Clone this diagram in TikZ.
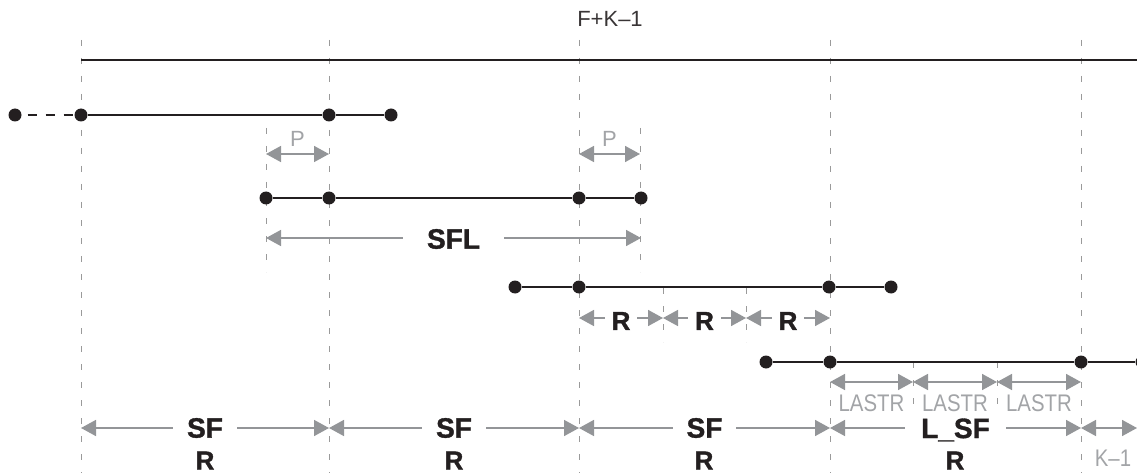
\documentclass[tikz,border=0pt]{standalone}
\usepackage{fontspec}
\setmainfont{Liberation Sans}
\newfontfamily\narrowsans[FakeStretch=0.85]{Liberation Sans}
\newfontfamily\heavysans[FakeBold=1.2]{Liberation Sans Bold}
\usetikzlibrary{arrows.meta}
\definecolor{ink}{HTML}{231F20}
\definecolor{ag}{HTML}{939598}
\definecolor{tg}{HTML}{A2A4A7}
\definecolor{dg}{HTML}{9A9A9A}
\begin{document}
\begin{tikzpicture}[x=1pt,y=-1pt,
  dot/.style={circle,fill=ink,inner sep=0pt,minimum size=13pt},
  seg/.style={draw=ink,line width=1.4pt},
  guide/.style={draw=dg,line width=0.9pt,dash pattern=on 6pt off 12pt},
  dim/.style={draw=ag,line width=1.6pt,{Triangle[length=15pt,width=16pt]}-{Triangle[length=15pt,width=16pt]}},
  big/.style={font=\heavysans\fontsize{28}{28}\selectfont,text=ink,fill=white,inner xsep=14pt,inner ysep=1pt},
  bigr/.style={font=\heavysans\fontsize{26}{26}\selectfont,text=ink,fill=white,inner xsep=7pt,inner ysep=1pt,yshift=-3pt},
  lab/.style={font=\heavysans\fontsize{26}{26}\selectfont,text=ink,inner sep=0pt,anchor=base},
  small/.style={font=\fontsize{22}{22}\selectfont,text=tg,inner sep=1pt},
  narrow/.style={font=\narrowsans\fontsize{24}{24}\selectfont,text=tg,inner sep=1pt}]
\useasboundingbox (0,0) rectangle (1137,473);

% main vertical guides
\foreach \n/\x in {1/81,2/329,3/579,4/830,5/1081}{
  \coordinate (g\n t) at (\x,40);
  \coordinate (g\n b) at (\x,473);
  \draw[guide] (g\n t) -- (g\n b);
}
% short guides
\coordinate (p1t) at (266,128); \coordinate (p1b) at (266,272);
\coordinate (p2t) at (640,128); \coordinate (p2b) at (640,272);
\coordinate (r1t) at (663,288); \coordinate (r1b) at (663,342);
\coordinate (r2t) at (746,288); \coordinate (r2b) at (746,342);
\coordinate (l1t) at (913,362); \coordinate (l1b) at (913,414);
\coordinate (l2t) at (997,362); \coordinate (l2b) at (997,414);
\foreach \c in {p1,p2,r1,r2,l1,l2}{\draw[guide] (\c t) -- (\c b);}

% top line
\node[font=\fontsize{22}{22}\selectfont,text=ink!90] (fk) at (610,19) {F+K–1};
\coordinate (t0) at (81,60);
\coordinate (t1) at (1137,60);
\draw[seg] (t0) -- (t1);

% row 1
\node[dot] (a0) at (15,115) {};
\node[dot] (a1) at (81,115) {};
\node[dot] (a2) at (329,115) {};
\node[dot] (a3) at (391,115) {};
\draw[draw=ink,line width=1.4pt,dash pattern=on 9pt off 9pt,dash phase=-6pt] (a0) -- (a1);
\draw[seg] (a1) -- (a2) -- (a3);

% P arrows
\coordinate (pa0) at (266,154); \coordinate (pa1) at (329,154);
\coordinate (pb0) at (579,154); \coordinate (pb1) at (640,154);
\draw[dim] (pa0) -- (pa1);
\draw[dim] (pb0) -- (pb1);
\node[small] (pl1) at (297.5,139) {P};
\node[small] (pl2) at (609.5,139) {P};

% row 2
\node[dot] (b0) at (266,198) {};
\node[dot] (b1) at (329,198) {};
\node[dot] (b2) at (579,198) {};
\node[dot] (b3) at (641,198) {};
\draw[seg] (b0) -- (b1) -- (b2) -- (b3);

% SFL
\coordinate (s0) at (266,238); \coordinate (s1) at (641,238);
\draw[dim] (s0) -- node[big,inner xsep=24pt,yshift=-1pt] (sfl) {SFL} (s1);

% row 3
\node[dot] (c0) at (515,287) {};
\node[dot] (c1) at (579,287) {};
\node[dot] (c2) at (829,287) {};
\node[dot] (c3) at (891,287) {};
\draw[seg] (c0) -- (c1) -- (c2) -- (c3);

% R arrows
\coordinate (ra) at (579,318); \coordinate (rb) at (663,318);
\coordinate (rc) at (746,318); \coordinate (rd) at (830,318);
\draw[dim] (ra) -- node[bigr] (rl1) {R} (rb);
\draw[dim] (rb) -- node[bigr] (rl2) {R} (rc);
\draw[dim] (rc) -- node[bigr] (rl3) {R} (rd);

% row 4
\node[dot] (d0) at (766,362) {};
\node[dot] (d1) at (830,362) {};
\node[dot] (d2) at (1081,362) {};
\node[dot] (d3) at (1142,362) {};
\draw[seg] (d0) -- (d1) -- (d2) -- (d3);

% LASTR arrows
\coordinate (la) at (830,382); \coordinate (lb) at (913,382);
\coordinate (lc) at (997,382); \coordinate (ld) at (1081,382);
\draw[dim] (la) -- (lb);
\draw[dim] (lb) -- (lc);
\draw[dim] (lc) -- (ld);
\node[narrow] (lt1) at (871.5,403) {LASTR};
\node[narrow] (lt2) at (955,403) {LASTR};
\node[narrow] (lt3) at (1039,403) {LASTR};

% bottom SF arrows
\coordinate (f0) at (81,428); \coordinate (f1) at (329,428);
\coordinate (f2) at (579,428); \coordinate (f3) at (830,428);
\coordinate (f4) at (1081,428); \coordinate (f5) at (1137,428);
\draw[dim] (f0) -- node[big] (sf1) {SF} (f1);
\draw[dim] (f1) -- node[big] (sf2) {SF} (f2);
\draw[dim] (f2) -- node[big] (sf3) {SF} (f3);
\draw[dim] (f3) -- node[big,inner xsep=16pt,yshift=-2pt] (sf4) {L\_SF} (f4);
\draw[dim] (f4) -- (f5);
\node[narrow] (km) at (1113,458) {K–1};

% bottom R labels
\node[lab] (br1) at (205,469.5) {R};
\node[lab] (br2) at (454,469.5) {R};
\node[lab] (br3) at (704,469.5) {R};
\node[lab] (br4) at (955,469.5) {R};
\end{tikzpicture}
\end{document}
